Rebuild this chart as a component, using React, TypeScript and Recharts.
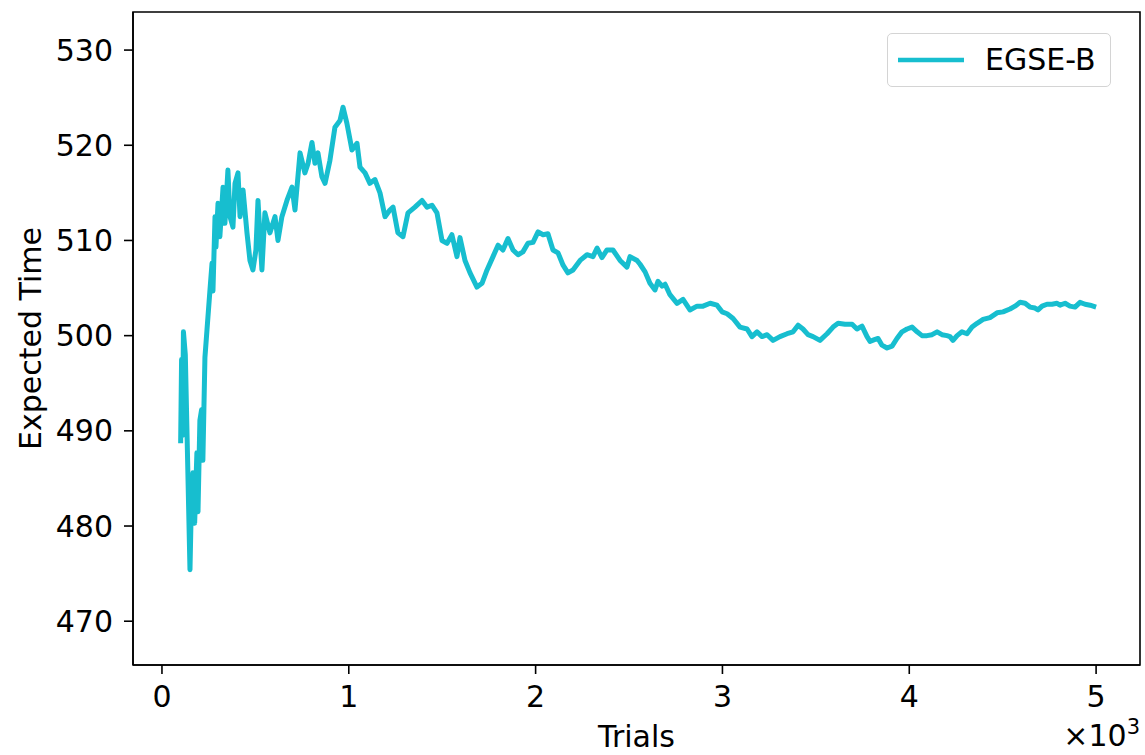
import { LineChart, Line, XAxis, YAxis, Legend, ReferenceArea } from "recharts";

// running estimate of expected time vs. number of trials
const trials = [
  100, 105, 110, 115, 125, 135, 150, 158, 166, 175, 187, 193, 203, 212, 219,
  230, 241, 257, 268, 273, 284, 289, 300, 310, 327, 337, 353, 364, 380, 391,
  407, 418, 434, 455, 471, 487, 503, 514, 535, 551, 578, 605, 621, 642, 669,
  696, 712, 739, 765, 782, 803, 819, 835, 856, 873, 899, 926, 953, 969, 990,
  1017, 1044, 1060, 1087, 1113, 1140, 1167, 1194, 1220, 1237, 1263, 1290, 1317,
  1354, 1392, 1419, 1445, 1472, 1499, 1526, 1552, 1579, 1595, 1622, 1649, 1686,
  1713, 1740, 1772, 1799, 1825, 1852, 1879, 1906, 1932, 1959, 1986, 2013, 2040,
  2066, 2093, 2120, 2147, 2173, 2200, 2238, 2275, 2307, 2329, 2355, 2382, 2414,
  2452, 2489, 2505, 2543, 2559, 2586, 2612, 2639, 2655, 2677, 2693, 2719, 2757,
  2789, 2826, 2864, 2896, 2934, 2971, 2998, 3025, 3057, 3094, 3132, 3158, 3185,
  3212, 3239, 3271, 3308, 3346, 3378, 3405, 3431, 3458, 3485, 3522, 3560, 3592,
  3619, 3656, 3694, 3720, 3747, 3774, 3790, 3817, 3833, 3854, 3881, 3908, 3934,
  3961, 3988, 4015, 4042, 4068, 4095, 4122, 4149, 4175, 4202, 4218, 4234, 4256,
  4282, 4309, 4336, 4363, 4395, 4432, 4470, 4502, 4539, 4566, 4593, 4620, 4646,
  4673, 4689, 4711, 4737, 4764, 4791, 4807, 4834, 4860, 4887, 4914, 4941, 4968,
  5000,
];

const expectedTime = [
  488.7, 497.5, 489.5, 500.4, 498.0, 489.0, 475.4, 483.0, 485.6, 480.3, 487.7, 481.5, 491.1, 492.2, 486.9,
  497.7, 500.6, 504.8, 507.6, 504.7, 512.5, 509.3, 513.9, 510.4, 515.6, 511.8, 517.4, 512.5, 511.4, 516.0,
  517.1, 512.5, 515.3, 510.8, 507.9, 506.9, 509.0, 514.2, 506.9, 512.9, 510.8, 512.5, 510.0, 512.5, 514.2,
  515.6, 513.2, 519.2, 517.1, 518.1, 520.3, 518.1, 519.2, 516.7, 516.0, 518.4, 521.9, 522.6, 524.0, 522.3,
  519.5, 520.2, 517.7, 517.1, 516.0, 516.4, 515.0, 512.5, 513.2, 513.5, 510.8, 510.4, 512.9,
  513.5, 514.2, 513.5, 513.7, 512.9, 510.0, 509.7, 510.6, 508.3, 510.3, 507.9, 506.6, 505.1,
  505.5, 506.9, 508.3, 509.5, 509.0, 510.2, 509.0, 508.5, 508.8, 509.7, 509.8, 510.9, 510.6,
  510.7, 509.0, 508.7, 507.4, 506.6, 506.9, 507.9, 508.5, 508.3, 509.2, 508.2, 509.0, 509.0,
  507.9, 507.2, 508.3, 507.9, 507.5, 506.7, 505.5, 504.8, 505.7, 505.2, 505.4, 504.3, 503.4,
  503.8, 502.7, 503.1, 503.1, 503.4, 503.2, 502.5, 502.3, 501.8, 500.9, 500.7, 499.9, 500.4,
  499.9, 500.1, 499.5, 499.9, 500.2, 500.4, 501.1, 500.7, 500.1, 499.9, 499.5, 500.2, 500.9,
  501.3, 501.2, 501.2, 500.7, 501.0, 499.9, 499.4, 499.6, 499.7, 499.0, 498.7, 498.9, 499.7,
  500.4, 500.7, 500.9, 500.4, 500.0, 500.0, 500.1, 500.4, 500.1, 500.0, 499.9, 499.5, 500.0,
  500.4, 500.2, 500.9, 501.3, 501.7, 501.9, 502.4, 502.5, 502.8, 503.1, 503.5, 503.4, 503.0,
  502.9, 502.7, 503.1, 503.3, 503.3, 503.4, 503.2, 503.4, 503.1, 503.0, 503.5, 503.3, 503.2,
  503.0,
];

const xTicks = [0, 1000, 2000, 3000, 4000, 5000];
const yTicks = [470, 480, 490, 500, 510, 520, 530];
const seriesName = "EGSE-B";

const data = trials.map((t, i) => ({ trials: t, value: expectedTime[i] }));

const FONT = "'DejaVu Sans', sans-serif";
const CYAN = "#17becf";
const X_DOMAIN = [-155, 5235];
const Y_DOMAIN = [465.4, 534.0];

const axisStroke = { stroke: "#000", strokeWidth: 1.6 };
const tickStyle = { fill: "#000", fontSize: 30, fontFamily: FONT };

const XLabel = (props: any) => {
  const { x, y, width } = props.viewBox;
  return (
    <g fontFamily={FONT} fill="#000">
      <text x={x + width / 2} y={y + 82} fontSize={30} textAnchor="middle">
        Trials
      </text>
      <text x={x + width} y={y + 81} fontSize={30} textAnchor="end">
        ×10
        <tspan fontSize={21} dy={-12}>
          3
        </tspan>
      </text>
    </g>
  );
};

const YLabel = (props: any) => {
  const { x, y, height } = props.viewBox;
  const cx = x + 41;
  const cy = y + height / 2;
  return (
    <text
      x={cx}
      y={cy}
      transform={`rotate(-90, ${cx}, ${cy})`}
      textAnchor="middle"
      fontSize={30}
      fontFamily={FONT}
      fill="#000"
    >
      Expected Time
    </text>
  );
};

const LegendBox = () => (
  <div
    style={{
      boxSizing: "border-box",
      width: 224,
      height: 54,
      border: "1.5px solid #d4d4d4",
      borderRadius: 5,
      background: "#fff",
      display: "flex",
      alignItems: "center",
      fontFamily: FONT,
      fontSize: 30,
      color: "#000",
    }}
  >
    <svg width={66} height={10} style={{ marginLeft: 10 }}>
      <line x1={0} y1={5} x2={66} y2={5} stroke={CYAN} strokeWidth={4.5} />
    </svg>
    <span style={{ marginLeft: 21, lineHeight: 1 }}>{seriesName}</span>
  </div>
);

export default function App() {
  return (
    <div style={{ position: "absolute", left: 0, top: 0, background: "#fff" }}>
      <LineChart
        width={1145}
        height={755}
        data={data}
        margin={{ top: 12, right: 5, bottom: 0, left: 0 }}
      >
        <XAxis
          dataKey="trials"
          type="number"
          domain={X_DOMAIN}
          allowDataOverflow
          ticks={xTicks}
          tickFormatter={(v: number) => String(v / 1000)}
          height={90}
          tickSize={9}
          tickMargin={12}
          axisLine={axisStroke}
          tickLine={axisStroke}
          tick={tickStyle}
          label={XLabel}
        />
        <YAxis
          type="number"
          domain={Y_DOMAIN}
          allowDataOverflow
          ticks={yTicks}
          width={133}
          tickSize={9}
          tickMargin={11}
          axisLine={axisStroke}
          tickLine={axisStroke}
          tick={tickStyle}
          label={YLabel}
        />
        {/* closes the frame on the top and right sides */}
        <ReferenceArea
          x1={X_DOMAIN[0]}
          x2={X_DOMAIN[1]}
          y1={Y_DOMAIN[0]}
          y2={Y_DOMAIN[1]}
          fill="none"
          stroke="#000"
          strokeWidth={1.6}
          ifOverflow="visible"
        />
        <Legend
          layout="horizontal"
          align="center"
          verticalAlign="middle"
          content={LegendBox}
          wrapperStyle={{ left: 887, top: 33, width: 224, height: 54 }}
        />
        <Line
          type="linear"
          dataKey="value"
          name={seriesName}
          stroke={CYAN}
          strokeWidth={5}
          strokeLinejoin="round"
          dot={false}
          activeDot={false}
          isAnimationActive={false}
        />
      </LineChart>
    </div>
  );
}
